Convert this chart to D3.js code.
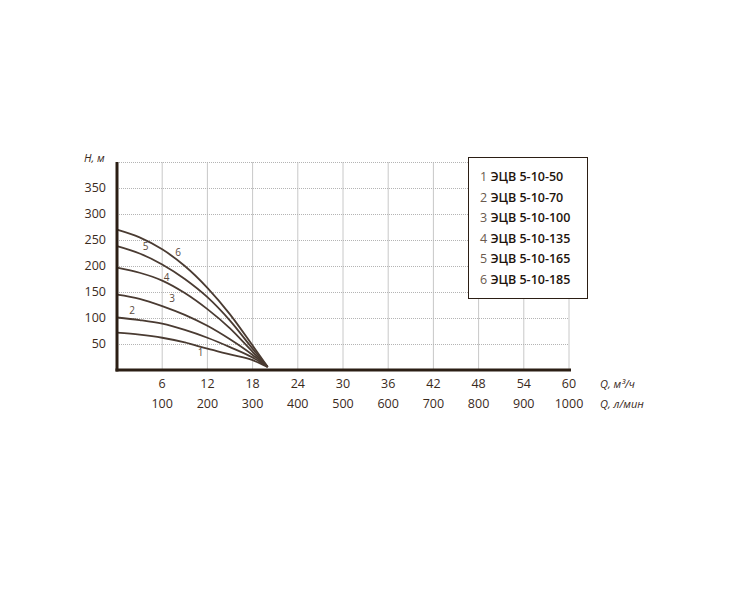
<!DOCTYPE html>
<html lang="ru">
<head>
<meta charset="UTF-8">
<title>ЭЦВ 5-10</title>
<script src="https://d3js.org/d3.v7.min.js"></script>
<style>
  body { margin: 0; background: #fff; font-family: "Open Sans", "DejaVu Sans", sans-serif; }
  .tick-lbl { font-size: 12.5px; fill: #3a2a1c; }
  .curve { fill: none; stroke: #4a3b32; stroke-width: 1.8; }
</style>
</head>
<body>
<svg width="734" height="600"></svg>
<script>
// подача, м3/ч
const flow = [0, 3, 6, 9, 12, 15, 18, 20];
// напор, м (по кривым 1..6)
const head1 = [72, 68, 62, 53, 41, 30, 19, 6];
const head2 = [101, 96, 89, 77, 62, 44, 24, 6];
const head3 = [145, 137, 123, 106, 85, 59, 29, 6];
const head4 = [197, 187, 172, 148, 117, 80, 35, 6];
const head5 = [238, 224, 203, 175, 140, 95, 41, 6];
const head6 = [270, 255, 232, 200, 158, 107, 47, 6];
const heads = [head1, head2, head3, head4, head5, head6];

const models = ["ЭЦВ 5-10-50", "ЭЦВ 5-10-70", "ЭЦВ 5-10-100",
                "ЭЦВ 5-10-135", "ЭЦВ 5-10-165", "ЭЦВ 5-10-185"];

// подписи кривых (Q, H)
const curveLabelQ = [11.1, 2.0, 7.3, 6.6, 3.8, 8.1];
const curveLabelH = [27, 108, 130, 172, 230, 220];

const qTicks = [6, 12, 18, 24, 30, 36, 42, 48, 54, 60];
const lminTicks = [100, 200, 300, 400, 500, 600, 700, 800, 900, 1000];
const hTicks = [50, 100, 150, 200, 250, 300, 350];

const svg = d3.select("svg");
const x = d3.scaleLinear().domain([0, 60]).range([117, 569]);
const y = d3.scaleLinear().domain([0, 400]).range([370, 162]);

// сетка
svg.append("g").selectAll("line")
  .data(d3.range(6, 61, 6))
  .join("line")
  .attr("x1", d => x(d)).attr("x2", d => x(d))
  .attr("y1", y(400)).attr("y2", y(0))
  .attr("stroke", "#c8c8c8").attr("stroke-width", 1);

svg.append("g").selectAll("line")
  .data(d3.range(50, 401, 50))
  .join("line")
  .attr("x1", x(0)).attr("x2", x(60))
  .attr("y1", d => y(d) + 0.5).attr("y2", d => y(d) + 0.5)
  .attr("stroke", "#b4b4b4").attr("stroke-width", 1)
  .attr("stroke-dasharray", "1,1");

// кривые
const line = d3.line()
  .x((d, i) => x(flow[i]))
  .y(d => y(d))
  .curve(d3.curveMonotoneX);

svg.append("g").selectAll("path")
  .data(heads)
  .join("path")
  .attr("class", "curve")
  .attr("d", line);

svg.append("g").selectAll("text")
  .data(curveLabelQ)
  .join("text")
  .attr("x", d => x(d))
  .attr("y", (d, i) => y(curveLabelH[i]))
  .attr("text-anchor", "middle")
  .attr("font-size", 10)
  .attr("fill", "#5a4a3e")
  .text((d, i) => i + 1);

// оси
svg.append("line")
  .attr("x1", x(0)).attr("x2", x(0))
  .attr("y1", y(400)).attr("y2", y(0) + 1.5)
  .attr("stroke", "#2b1e14").attr("stroke-width", 3);
svg.append("line")
  .attr("x1", x(0) - 1.5).attr("x2", x(60) + 2)
  .attr("y1", y(0)).attr("y2", y(0))
  .attr("stroke", "#2b1e14").attr("stroke-width", 3);

// подписи делений
svg.append("g").selectAll("text")
  .data(hTicks)
  .join("text")
  .attr("class", "tick-lbl")
  .attr("x", 106)
  .attr("y", d => y(d) + 4)
  .attr("text-anchor", "end")
  .text(d => d);

svg.append("g").selectAll("text")
  .data(qTicks)
  .join("text")
  .attr("class", "tick-lbl")
  .attr("x", d => x(d))
  .attr("y", 388)
  .attr("text-anchor", "middle")
  .text(d => d);

svg.append("g").selectAll("text")
  .data(lminTicks)
  .join("text")
  .attr("class", "tick-lbl")
  .attr("x", (d, i) => x(qTicks[i]))
  .attr("y", 408)
  .attr("text-anchor", "middle")
  .text(d => d);

// названия осей
svg.append("text")
  .attr("x", 84).attr("y", 162)
  .attr("font-size", 11).attr("font-style", "italic")
  .attr("fill", "#3a2a1c")
  .text("H, м");
svg.append("text")
  .attr("x", 600).attr("y", 388)
  .attr("font-size", 11).attr("font-style", "italic")
  .attr("fill", "#3a2a1c")
  .text("Q, м³/ч");
svg.append("text")
  .attr("x", 600).attr("y", 408)
  .attr("font-size", 11).attr("font-style", "italic")
  .attr("fill", "#3a2a1c")
  .text("Q, л/мин");

// легенда
const lg = svg.append("g");
lg.append("rect")
  .attr("x", 468.5).attr("y", 157.5)
  .attr("width", 119).attr("height", 141)
  .attr("fill", "#fff").attr("stroke", "#2b1e14").attr("stroke-width", 1);

const rows = lg.selectAll("text")
  .data(models)
  .join("text")
  .attr("x", 480)
  .attr("y", (d, i) => 181 + i * 20.6)
  .attr("font-size", 12.5);
rows.append("tspan").attr("fill", "#6a5a4e").text((d, i) => (i + 1) + " ");
rows.append("tspan").attr("fill", "#1e140c").attr("font-weight", 600).text(d => d);
</script>
</body>
</html>
